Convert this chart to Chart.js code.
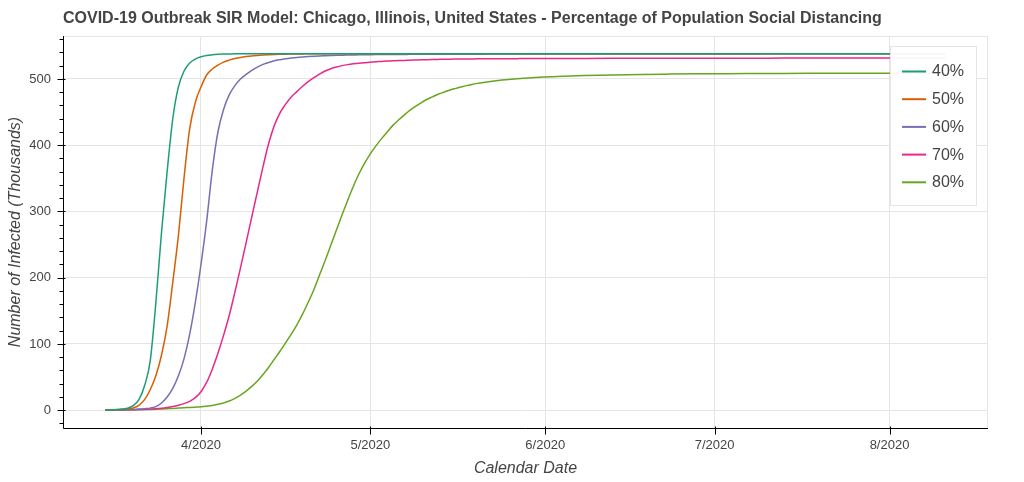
<!DOCTYPE html>
<html><head><meta charset="utf-8">
<script src="https://cdn.jsdelivr.net/npm/chart.js@4.4.1/dist/chart.umd.min.js"></script>
<style>html,body{margin:0;padding:0;background:#fff}canvas{display:block}</style>
</head><body>
<canvas id="c" width="1024" height="482"></canvas>
<script>
// ---------------- data ----------------
const titleText = 'COVID-19 Outbreak SIR Model: Chicago, Illinois, United States - Percentage of Population Social Distancing';
const xAxisTitle = 'Calendar Date';
const yAxisTitle = 'Number of Infected (Thousands)';
const startDate = [2020, 3, 15]; // year, month, day of first point
const dayOffsets = [
  0,1,2,3,4,5,6,7,8,9,
  10,11,12,13,14,15,16,17,18,19,
  20,21,22,23,24,25,26,27,28,29,
  30,31,32,33,34,35,36,37,38,39,
  40,41,42,43,44,45,46,47,48,49,
  50,51,52,53,54,55,56,57,58,59,
  60,61,62,63,64,65,66,67,68,69,
  70,71,72,73,74,75,76,77,78,79,
  80,85,90,95,100,105,110,115,120,125,
  130,135,140,145,149
];
const seriesLabels = ['40%', '50%', '60%', '70%', '80%'];
const s40 = [
  0.2,0.5,1.0,1.8,3.0,7,16,37,74,162,
  268,360,440,488,512,524,530,533.5,535.5,536.5,
  537.2,537.6,537.8,538,538,538,538,538,538,538,
  538,538,538,538,538,538,538,538,538,538,
  538,538,538,538,538,538,538,538,538,538,
  538,538,538,538,538,538,538,538,538,538,
  538,538,538,538,538,538,538,538,538,538,
  538,538,538,538,538,538,538,538,538,538,
  538,538,538,538,538,538,538,538,538,538,
  538,538,538,538,538
];
const s50 = [
  0.2,0.4,0.8,1.2,2.0,3.5,7.5,16,31,52,
  83,127,193,264,351,425,465,488,506,515,
  521,525.5,528.5,530.8,532.5,533.8,534.8,535.5,536.1,536.6,
  537,537.3,537.5,537.7,537.8,537.9,538,538,538,538,
  538,538,538,538,538,538,538,538,538,538,
  538,538,538,538,538,538,538,538,538,538,
  538,538,538,538,538,538,538,538,538,538,
  538,538,538,538,538,538,538,538,538,538,
  538,538,538,538,538,538,538,538,538,538,
  538,538,538,538,538
];
const s60 = [
  0.1,0.2,0.4,0.6,0.9,1.3,1.8,2.4,3.2,5.5,
  11,20,33,52,78,115,163,220,285,362,
  420,454,476,490,500,507,513,518,522,525,
  527.5,529.2,530.6,531.7,532.6,533.3,533.9,534.4,534.8,535.1,
  535.4,535.7,535.9,536.1,536.3,536.5,536.6,536.7,536.8,536.9,
  537,537,537.1,537.1,537.2,537.2,537.3,537.3,537.3,537.4,
  537.4,537.4,537.4,537.5,537.5,537.5,537.5,537.5,537.6,537.6,
  537.6,537.6,537.6,537.7,537.7,537.7,537.7,537.7,537.7,537.7,
  537.7,537.8,537.8,537.8,537.9,537.9,537.9,537.9,538,538,
  538,538,538,538,538
];
const s70 = [
  0.1,0.2,0.3,0.4,0.6,0.8,1.0,1.3,1.7,2.3,
  3.1,4.2,5.6,7.5,10,13.5,19,28,42,62,
  86,113,143,178,215,253,292,330,368,403,
  430,449,462,473,481,489,496,502,507.5,512,
  515.5,518.2,520.2,521.7,522.9,523.9,524.7,525.4,526,526.5,
  527,527.4,527.8,528.1,528.4,528.7,529,529.2,529.4,529.6,
  529.8,529.9,530,530.1,530.2,530.3,530.4,530.4,530.5,530.5,
  530.6,530.6,530.7,530.7,530.8,530.8,530.8,530.9,530.9,530.9,
  531,531.1,531.2,531.3,531.3,531.4,531.4,531.4,531.5,531.5,
  531.5,531.5,531.5,531.5,531.5
];
const s80 = [
  0.1,0.2,0.3,0.45,0.6,0.75,0.9,1.1,1.3,1.6,
  2.0,2.4,2.8,3.3,3.8,4.2,4.7,5.3,6.2,7.3,
  9,11,14,18,23,29,36,44,54,65,
  77,89,102,115,129,145,163,182,204,226,
  249,272,295,317,338,357,373,387,399,410,
  420,430,438,445.5,452.5,458.5,464,469,473,477,
  480,483,485.5,487.8,490,491.8,493.4,494.8,496,497.1,
  498,498.9,499.7,500.4,501,501.6,502.1,502.6,503,503.4,
  503.8,505.2,506.2,506.9,507.4,507.8,508.1,508.3,508.4,508.5,
  508.6,508.6,508.7,508.7,508.7
];
const xTickMonths = [[2020,4],[2020,5],[2020,6],[2020,7],[2020,8]];
const yTickValues = [0,100,200,300,400,500];
const yMinorStep = 20;

// ---------------- styles ----------------
const colors = ['#1b9e77', '#d95f02', '#7570b3', '#e7298a', '#66a61e'];
const FONT = '"Liberation Sans", Arial, Helvetica, sans-serif';
const TXT = '#444444';
const GRID = '#e5e5e5';

const DAY = 86400000;
const t0 = Date.UTC(startDate[0], startDate[1]-1, startDate[2]);
const xs = dayOffsets.map(d => t0 + d*DAY);
const allSeries = [s40, s50, s60, s70, s80];
const allY = allSeries.flat();
const yLo = Math.min(...allY), yHi = Math.max(...allY);
const xLo = xs[0], xHi = xs[xs.length-1];
const padX = (xHi - xLo) * 0.05, padY = (yHi - yLo) * 0.05;

const datasets = allSeries.map((s, i) => ({
  label: seriesLabels[i],
  data: s.map((v, k) => ({x: xs[k], y: v})),
  borderColor: colors[i],
  backgroundColor: colors[i],
  borderWidth: 1.5,
  pointRadius: 0,
  cubicInterpolationMode: 'monotone',
  fill: false
}));

const decor = {
  id: 'decor',
  afterDatasetsDraw(chart) {
    const {ctx} = chart;
    ctx.save();
    const lx = 890.5, ly = 46.5, lw = 86, lh = 159;
    ctx.fillStyle = 'rgba(255,255,255,0.95)';
    ctx.fillRect(lx, ly, lw, lh);
    ctx.strokeStyle = GRID; ctx.lineWidth = 1;
    ctx.strokeRect(lx, ly, lw, lh);
    chart.data.datasets.forEach((ds, i) => {
      const y = 71.5 + i*27.7;
      ctx.strokeStyle = ds.borderColor; ctx.lineWidth = 2;
      ctx.beginPath(); ctx.moveTo(902, y); ctx.lineTo(926, y); ctx.stroke();
      ctx.fillStyle = TXT; ctx.font = '16px ' + FONT;
      ctx.textBaseline = 'middle'; ctx.textAlign = 'left';
      ctx.fillText(ds.label, 932, y + 0.5);
    });
    ctx.restore();
  },
  afterDraw(chart) {
    const {ctx, chartArea: a, scales} = chart;
    ctx.save();
    ctx.strokeStyle = GRID; ctx.lineWidth = 1;
    ctx.strokeRect(Math.round(a.left)+0.5, Math.round(a.top)+0.5, Math.round(a.right - a.left)-1, Math.round(a.bottom - a.top));
    ctx.strokeStyle = '#000'; ctx.lineWidth = 1;
    const L = Math.round(a.left) + 0.5, B = Math.round(a.bottom) + 0.5;
    ctx.beginPath();
    ctx.moveTo(L, a.top); ctx.lineTo(L, B);
    ctx.moveTo(L, B); ctx.lineTo(a.right, B);
    ctx.stroke();
    const ys = scales.y;
    ctx.beginPath();
    for (let v = Math.ceil(ys.min / yMinorStep) * yMinorStep; v <= ys.max; v += yMinorStep) {
      const py = Math.round(ys.getPixelForValue(v)) + 0.5;
      const major = yTickValues.includes(v);
      ctx.moveTo(L - (major ? 6 : 4), py); ctx.lineTo(L + (major ? 2 : 0), py);
    }
    const xsc = scales.x;
    xsc.ticks.forEach(t => {
      const px = Math.round(xsc.getPixelForValue(t.value)) + 0.5;
      ctx.moveTo(px, B - 2); ctx.lineTo(px, B + 6);
    });
    ctx.stroke();
    ctx.fillStyle = TXT; ctx.font = 'bold 16px ' + FONT;
    ctx.textBaseline = 'middle'; ctx.textAlign = 'left';
    ctx.fillText(titleText, a.left, 19);
    ctx.restore();
  }
};

new Chart(document.getElementById('c'), {
  type: 'line',
  data: { datasets },
  plugins: [decor],
  options: {
    responsive: false,
    animation: false,
    devicePixelRatio: 1,
    layout: { padding: { top: 36, right: 36, left: 0, bottom: 0 } },
    plugins: { legend: { display: false }, title: { display: false }, tooltip: { enabled: false } },
    scales: {
      x: {
        type: 'linear',
        bounds: 'data',
        min: xLo - padX, max: xHi + padX,
        afterFit: s => { s.height = 54; },
        afterBuildTicks: s => { s.ticks = xTickMonths.map(([yy, mm]) => ({ value: Date.UTC(yy, mm-1, 1) })); },
        grid: { color: GRID, lineWidth: 1, drawTicks: false },
        border: { display: false },
        ticks: {
          autoSkip: false, maxRotation: 0, padding: 10,
          color: TXT, font: { family: FONT, size: 13 },
          callback: v => { const d = new Date(v); return (d.getUTCMonth()+1) + '/' + d.getUTCFullYear(); }
        },
        title: { display: true, text: xAxisTitle, color: TXT, font: { family: FONT, size: 16, style: 'italic' }, padding: { top: 0, bottom: 4 } }
      },
      y: {
        type: 'linear',
        bounds: 'data',
        min: yLo - padY, max: yHi + padY,
        afterFit: s => { s.width = 63; },
        afterBuildTicks: s => { s.ticks = yTickValues.map(v => ({ value: v })); },
        grid: { color: GRID, lineWidth: 1, drawTicks: false },
        border: { display: false },
        ticks: {
          autoSkip: false, padding: 12,
          color: TXT, font: { family: FONT, size: 13 },
          callback: v => String(v)
        },
        title: { display: true, text: yAxisTitle, color: TXT, font: { family: FONT, size: 16, style: 'italic' }, padding: { top: 6, bottom: 0 } }
      }
    }
  }
});
</script>
</body></html>
